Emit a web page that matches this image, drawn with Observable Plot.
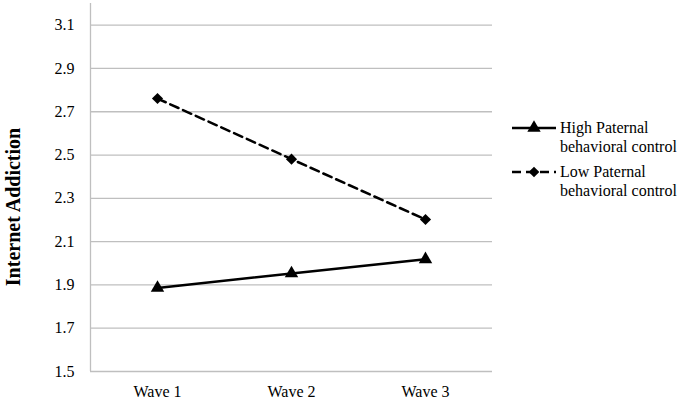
<!DOCTYPE html>
<html>
<head>
<meta charset="utf-8">
<script src="https://cdn.jsdelivr.net/npm/d3@7"></script>
<script src="https://cdn.jsdelivr.net/npm/@observablehq/plot@0.6"></script>
<style>
  html, body { margin: 0; padding: 0; background: #fff; font-family: "Liberation Serif", serif; }
  #wrap { position: relative; width: 686px; height: 400px; }
  #wrap svg text { font-family: "Liberation Serif", serif; }
  #legend { position: absolute; left: 0; top: 0; pointer-events: none; }
</style>
</head>
<body>
<div id="wrap"></div>
<script>
const waves = [1, 2, 3];
const waveLabels = ["Wave 1", "Wave 2", "Wave 3"];
const highValues = [1.886, 1.953, 2.018];
const lowValues = [2.761, 2.481, 2.202];
const yTicks = [1.5, 1.7, 1.9, 2.1, 2.3, 2.5, 2.7, 2.9, 3.1];
const seriesNames = ["High Paternal behavioral control", "Low Paternal behavioral control"];
const yLabel = "Internet Addiction";

const high = waves.map((w, i) => ({wave: w, value: highValues[i]}));
const low = waves.map((w, i) => ({wave: w, value: lowValues[i]}));

const font = "Liberation Serif, serif";

const chart = Plot.plot({
  width: 686,
  height: 400,
  marginLeft: 90,
  marginRight: 194,
  marginTop: 3,
  marginBottom: 29,
  style: {fontFamily: font, fontSize: "16px", color: "#000", background: "#fff", overflow: "visible"},
  x: {domain: [0.5, 3.5], ticks: waves, tickFormat: d => waveLabels[d - 1], tickSize: 0, tickPadding: 14, label: null},
  y: {domain: [1.5, 3.2], ticks: yTicks, tickFormat: d3.format(".1f"), tickSize: 0, tickPadding: 16, label: null},
  marks: [
    Plot.ruleY(yTicks, {x1: 0.5, x2: 3.5, stroke: "#bfbfbf", strokeWidth: 1.3}),
    Plot.ruleX([0.5], {y1: 1.5, y2: 3.2, stroke: "#bfbfbf", strokeWidth: 1.3}),
    Plot.line(high, {x: "wave", y: "value", stroke: "#000", strokeWidth: 2.5}),
    Plot.line(low, {x: "wave", y: "value", stroke: "#000", strokeWidth: 2.5, strokeDasharray: "9,5"}),
    Plot.dot(high, {x: "wave", y: "value", symbol: "triangle", r: 5, fill: "#000", stroke: "none"}),
    Plot.dot(low, {x: "wave", y: "value", symbol: "diamond2", r: 5, fill: "#000", stroke: "none"})
  ]
});

// bold rotated y-axis title
d3.select(chart).append("text")
  .attr("transform", "translate(20,207) rotate(-90)")
  .attr("text-anchor", "middle")
  .attr("font-family", font)
  .attr("font-size", 20)
  .attr("font-weight", "bold")
  .attr("fill", "#000")
  .text(yLabel);

document.getElementById("wrap").appendChild(chart);

// legend
const legend = d3.select("#wrap").append("svg")
  .attr("id", "legend").attr("width", 686).attr("height", 400);
const items = [
  {name: seriesNames[0], y: 128, dash: null, symbol: d3.symbolTriangle, size: 78},
  {name: seriesNames[1], y: 172, dash: "9,5", symbol: d3.symbolDiamond2, size: 72}
];
items.forEach(it => {
  legend.append("line")
    .attr("x1", 512).attr("x2", 556).attr("y1", it.y).attr("y2", it.y)
    .attr("stroke", "#000").attr("stroke-width", 2.5)
    .attr("stroke-dasharray", it.dash);
  legend.append("path")
    .attr("d", d3.symbol(it.symbol, it.size)())
    .attr("transform", `translate(534,${it.y})`)
    .attr("fill", "#000");
  const words = it.name.split(" ");
  const lines = [words.slice(0, 2).join(" "), words.slice(2).join(" ")];
  lines.forEach((t, j) => {
    legend.append("text")
      .attr("x", 560).attr("y", it.y + j * 19)
      .attr("dy", "0.32em")
      .attr("font-family", font).attr("font-size", 16)
      .attr("fill", "#000")
      .text(t);
  });
});
</script>
</body>
</html>
